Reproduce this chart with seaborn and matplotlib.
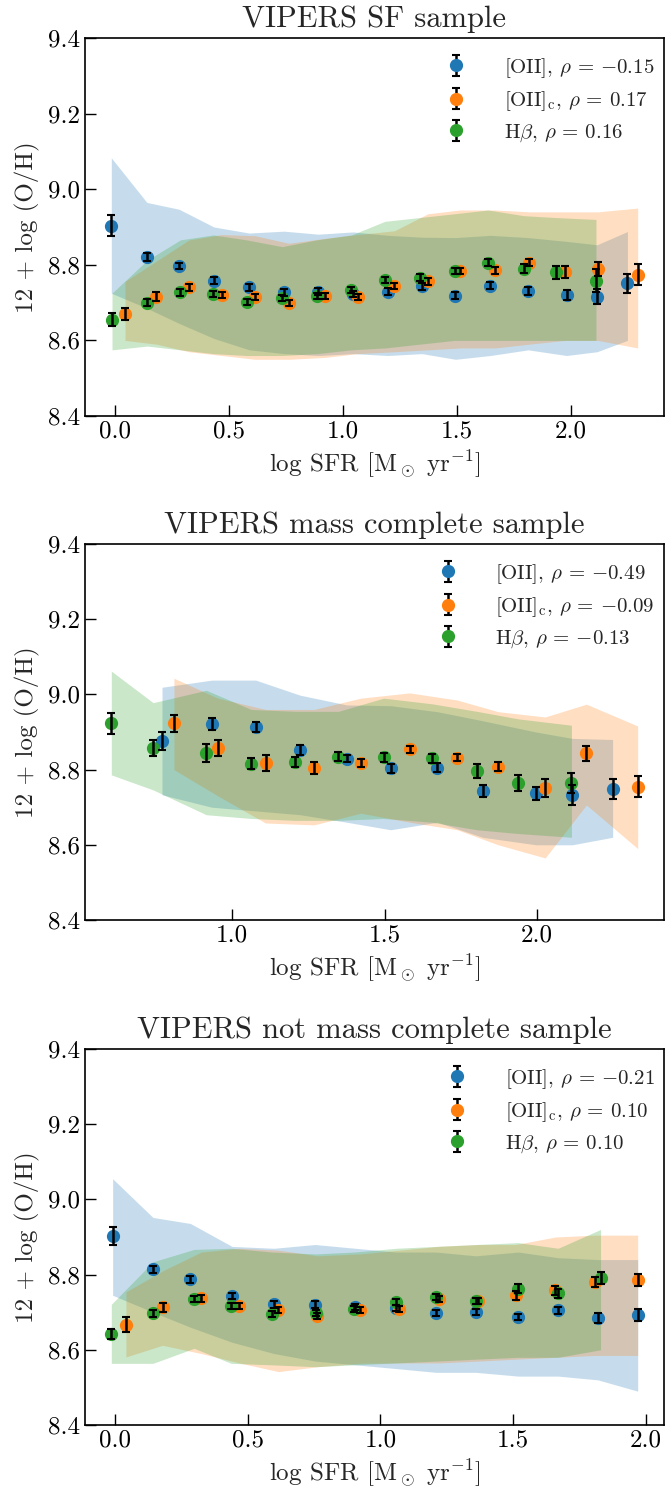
import numpy as np
import pandas as pd
import matplotlib
matplotlib.use("Agg")
import matplotlib.pyplot as plt
import seaborn as sns

# ---------------- data ----------------
titles = ["VIPERS SF sample", "VIPERS mass complete sample", "VIPERS not mass complete sample"]
rho_labels = [
    [r"[OII], $\rho$ = $-$0.15", r"[OII]$_{\rm c}$, $\rho$ = 0.17", r"H$\beta$, $\rho$ = 0.16"],
    [r"[OII], $\rho$ = $-$0.49", r"[OII]$_{\rm c}$, $\rho$ = $-$0.09", r"H$\beta$, $\rho$ = $-$0.13"],
    [r"[OII], $\rho$ = $-$0.21", r"[OII]$_{\rm c}$, $\rho$ = 0.10", r"H$\beta$, $\rho$ = 0.10"],
]

# Panel 1 : SF sample
p1_oii_x = [-0.016, 0.140, 0.281, 0.434, 0.589, 0.741, 0.892, 1.044, 1.197, 1.346, 1.493, 1.646, 1.812, 1.980, 2.114, 2.247]
p1_oii_y = [8.903, 8.820, 8.797, 8.758, 8.740, 8.727, 8.729, 8.723, 8.729, 8.743, 8.718, 8.745, 8.731, 8.720, 8.715, 8.751]
p1_oii_e = [0.028, 0.010, 0.009, 0.009, 0.009, 0.009, 0.009, 0.009, 0.009, 0.009, 0.009, 0.010, 0.010, 0.013, 0.020, 0.025]
p1_oii_hi = [9.083, 8.965, 8.947, 8.900, 8.884, 8.889, 8.881, 8.887, 8.878, 8.873, 8.872, 8.878, 8.872, 8.862, 8.853, 8.888]
p1_oii_lo = [8.725, 8.685, 8.645, 8.605, 8.575, 8.565, 8.560, 8.565, 8.560, 8.565, 8.550, 8.560, 8.575, 8.560, 8.570, 8.600]

p1_oiic_x = [0.044, 0.182, 0.325, 0.469, 0.614, 0.762, 0.921, 1.064, 1.225, 1.372, 1.514, 1.667, 1.817, 1.974, 2.117, 2.292]
p1_oiic_y = [8.671, 8.715, 8.741, 8.719, 8.714, 8.699, 8.717, 8.715, 8.744, 8.756, 8.783, 8.785, 8.806, 8.781, 8.789, 8.774]
p1_oiic_e = [0.016, 0.012, 0.009, 0.008, 0.008, 0.008, 0.008, 0.008, 0.008, 0.009, 0.008, 0.009, 0.010, 0.015, 0.018, 0.028]
p1_oiic_hi = [8.756, 8.810, 8.866, 8.880, 8.877, 8.857, 8.870, 8.880, 8.890, 8.935, 8.945, 8.945, 8.940, 8.940, 8.940, 8.950]
p1_oiic_lo = [8.600, 8.590, 8.570, 8.560, 8.550, 8.550, 8.555, 8.565, 8.570, 8.575, 8.580, 8.580, 8.590, 8.600, 8.600, 8.580]

p1_hb_x = [-0.013, 0.141, 0.287, 0.431, 0.577, 0.733, 0.885, 1.037, 1.184, 1.336, 1.489, 1.636, 1.792, 1.932, 2.109]
p1_hb_y = [8.655, 8.700, 8.727, 8.723, 8.701, 8.711, 8.718, 8.733, 8.760, 8.766, 8.784, 8.806, 8.789, 8.780, 8.758]
p1_hb_e = [0.017, 0.010, 0.009, 0.008, 0.008, 0.008, 0.008, 0.008, 0.008, 0.009, 0.008, 0.010, 0.012, 0.018, 0.030]
p1_hb_hi = [8.725, 8.812, 8.866, 8.879, 8.866, 8.848, 8.866, 8.879, 8.915, 8.925, 8.935, 8.945, 8.930, 8.925, 8.920]
p1_hb_lo = [8.575, 8.585, 8.575, 8.565, 8.560, 8.560, 8.565, 8.575, 8.580, 8.590, 8.600, 8.600, 8.600, 8.600, 8.600]

# Panel 2 : mass complete
p2_oii_x = [0.771, 0.934, 1.078, 1.223, 1.376, 1.520, 1.673, 1.821, 1.996, 2.115, 2.247]
p2_oii_y = [8.876, 8.922, 8.913, 8.852, 8.829, 8.804, 8.805, 8.744, 8.737, 8.733, 8.749]
p2_oii_e = [0.025, 0.016, 0.013, 0.014, 0.010, 0.012, 0.012, 0.016, 0.018, 0.027, 0.027]
p2_oii_hi = [9.019, 9.038, 9.038, 8.998, 8.972, 8.970, 8.954, 8.930, 8.900, 8.883, 8.880]
p2_oii_lo = [8.733, 8.700, 8.690, 8.680, 8.660, 8.640, 8.660, 8.620, 8.600, 8.600, 8.620]

p2_oiic_x = [0.810, 0.954, 1.110, 1.269, 1.422, 1.582, 1.738, 1.872, 2.026, 2.161, 2.329]
p2_oiic_y = [8.923, 8.857, 8.818, 8.804, 8.817, 8.854, 8.832, 8.808, 8.751, 8.843, 8.755]
p2_oiic_e = [0.022, 0.022, 0.021, 0.015, 0.010, 0.010, 0.010, 0.012, 0.024, 0.021, 0.029]
p2_oiic_hi = [9.043, 8.990, 8.960, 8.960, 8.990, 9.004, 8.985, 8.954, 8.940, 8.974, 8.916]
p2_oiic_lo = [8.800, 8.730, 8.658, 8.653, 8.684, 8.660, 8.640, 8.600, 8.565, 8.706, 8.590]

p2_hb_x = [0.605, 0.742, 0.916, 1.063, 1.208, 1.349, 1.497, 1.655, 1.802, 1.937, 2.112]
p2_hb_y = [8.923, 8.857, 8.845, 8.816, 8.821, 8.834, 8.833, 8.830, 8.796, 8.764, 8.764]
p2_hb_e = [0.027, 0.022, 0.024, 0.015, 0.013, 0.012, 0.012, 0.012, 0.018, 0.021, 0.027]
p2_hb_hi = [9.062, 8.978, 9.011, 8.960, 8.955, 8.955, 8.990, 8.975, 8.955, 8.935, 8.918]
p2_hb_lo = [8.786, 8.746, 8.680, 8.670, 8.665, 8.665, 8.670, 8.660, 8.640, 8.630, 8.620]

# Panel 3 : not mass complete
p3_oii_x = [-0.009, 0.143, 0.284, 0.441, 0.599, 0.754, 0.906, 1.060, 1.210, 1.360, 1.520, 1.670, 1.820, 1.970]
p3_oii_y = [8.902, 8.814, 8.787, 8.743, 8.721, 8.720, 8.713, 8.710, 8.698, 8.700, 8.687, 8.705, 8.685, 8.692]
p3_oii_e = [0.024, 0.010, 0.009, 0.009, 0.009, 0.009, 0.008, 0.008, 0.008, 0.008, 0.009, 0.010, 0.014, 0.016]
p3_oii_hi = [9.055, 8.952, 8.936, 8.875, 8.870, 8.880, 8.870, 8.860, 8.860, 8.850, 8.860, 8.845, 8.840, 8.840]
p3_oii_lo = [8.745, 8.700, 8.660, 8.620, 8.590, 8.570, 8.560, 8.550, 8.540, 8.540, 8.530, 8.530, 8.520, 8.490]

p3_oiic_x = [0.041, 0.179, 0.325, 0.469, 0.616, 0.763, 0.924, 1.070, 1.220, 1.370, 1.510, 1.660, 1.810, 1.970]
p3_oiic_y = [8.667, 8.713, 8.737, 8.716, 8.705, 8.690, 8.705, 8.708, 8.735, 8.730, 8.745, 8.758, 8.780, 8.785]
p3_oiic_e = [0.020, 0.012, 0.009, 0.008, 0.008, 0.008, 0.008, 0.008, 0.008, 0.008, 0.012, 0.012, 0.014, 0.016]
p3_oiic_hi = [8.754, 8.810, 8.860, 8.870, 8.865, 8.850, 8.855, 8.865, 8.875, 8.880, 8.880, 8.900, 8.905, 8.905]
p3_oiic_lo = [8.581, 8.612, 8.590, 8.565, 8.542, 8.555, 8.564, 8.565, 8.565, 8.570, 8.575, 8.580, 8.585, 8.585]

p3_hb_x = [-0.014, 0.143, 0.298, 0.438, 0.592, 0.756, 0.901, 1.060, 1.210, 1.360, 1.520, 1.670, 1.830]
p3_hb_y = [8.642, 8.697, 8.734, 8.717, 8.695, 8.699, 8.708, 8.726, 8.740, 8.730, 8.762, 8.750, 8.790]
p3_hb_e = [0.014, 0.010, 0.008, 0.008, 0.008, 0.008, 0.008, 0.008, 0.008, 0.008, 0.012, 0.012, 0.016]
p3_hb_hi = [8.721, 8.834, 8.867, 8.870, 8.860, 8.855, 8.860, 8.870, 8.875, 8.880, 8.885, 8.870, 8.920]
p3_hb_lo = [8.564, 8.564, 8.604, 8.564, 8.560, 8.555, 8.560, 8.565, 8.570, 8.575, 8.580, 8.580, 8.600]

panels = [
    [(p1_oii_x, p1_oii_y, p1_oii_e, p1_oii_lo, p1_oii_hi),
     (p1_oiic_x, p1_oiic_y, p1_oiic_e, p1_oiic_lo, p1_oiic_hi),
     (p1_hb_x, p1_hb_y, p1_hb_e, p1_hb_lo, p1_hb_hi)],
    [(p2_oii_x, p2_oii_y, p2_oii_e, p2_oii_lo, p2_oii_hi),
     (p2_oiic_x, p2_oiic_y, p2_oiic_e, p2_oiic_lo, p2_oiic_hi),
     (p2_hb_x, p2_hb_y, p2_hb_e, p2_hb_lo, p2_hb_hi)],
    [(p3_oii_x, p3_oii_y, p3_oii_e, p3_oii_lo, p3_oii_hi),
     (p3_oiic_x, p3_oiic_y, p3_oiic_e, p3_oiic_lo, p3_oiic_hi),
     (p3_hb_x, p3_hb_y, p3_hb_e, p3_hb_lo, p3_hb_hi)],
]
yticks = [8.4, 8.6, 8.8, 9.0, 9.2, 9.4]

# ---------------- style ----------------
sns.set_theme(style="ticks")
plt.rcParams.update({
    "font.family": ["cmr10", "DejaVu Serif"],
    "mathtext.fontset": "cm",
    "axes.formatter.use_mathtext": True,
    "axes.unicode_minus": False,
    "axes.linewidth": 1.2,
    "axes.edgecolor": "black",
    "xtick.direction": "in",
    "ytick.direction": "in",
    "xtick.major.size": 8,
    "ytick.major.size": 8,
    "xtick.major.width": 1.0,
    "ytick.major.width": 1.0,
    "xtick.color": "black",
    "ytick.color": "black",
    "xtick.labelsize": 18,
    "ytick.labelsize": 18,
})
palette = sns.color_palette("tab10", 3)

fig = plt.figure(figsize=(6.66, 14.99), dpi=100)
W, H = 666.0, 1499.0
tops = [38, 544, 1049]
bottoms = [416, 920, 1425]
left, right = 85, 664

for i in range(3):
    ax = fig.add_axes([left / W, 1 - bottoms[i] / H, (right - left) / W, (bottoms[i] - tops[i]) / H])
    for j, (x, y, e, lo, hi) in enumerate(panels[i]):
        col = palette[j]
        df = pd.DataFrame({"x": x, "lo": lo, "hi": hi})
        ax.fill_between(df["x"], df["lo"], df["hi"], color=col, alpha=0.25, linewidth=0, zorder=1)
    for j, (x, y, e, lo, hi) in enumerate(panels[i]):
        col = palette[j]
        eb = ax.errorbar(x, y, yerr=e, fmt="o", color=col, ms=8.5, ecolor="black",
                         elinewidth=1.8, capsize=3, capthick=1.5, label=rho_labels[i][j])
        eb.lines[0].set_zorder(3)
        for c in eb.lines[1]:
            c.set_zorder(4)
        for c in eb.lines[2]:
            c.set_zorder(4)
    ax.set_ylim(8.4, 9.4)
    ax.set_yticks(yticks)
    ax.set_yticklabels([f"{t:.1f}" for t in yticks])
    xt = [t for t in [0.0, 0.5, 1.0, 1.5, 2.0] if ax.get_xlim()[0] <= t <= ax.get_xlim()[1]]
    ax.set_xticks(xt)
    ax.set_xticklabels([f"{t:.1f}" for t in xt])
    ax.tick_params(top=False, right=False)
    ax.set_title(titles[i], fontsize=22, pad=8)
    ax.set_xlabel(r"log SFR [M$_\odot$ yr$^{-1}$]", fontsize=18, labelpad=4)
    ax.set_ylabel(r"12 + log (O/H)", fontsize=18, labelpad=6)
    ax.legend(loc="upper right", bbox_to_anchor=(1.02, 1.008), frameon=False, fontsize=15,
              handletextpad=1.3, labelspacing=0.45, borderaxespad=0.6)
    for s in ax.spines.values():
        s.set_color("black")

fig.savefig("out.png", dpi=100)
